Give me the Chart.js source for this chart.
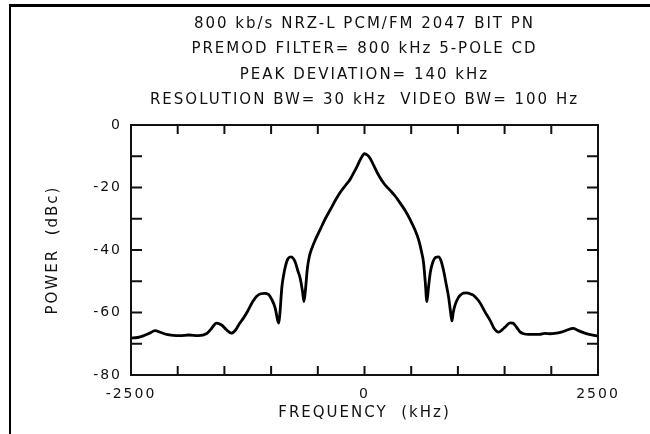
<!DOCTYPE html>
<html>
<head>
<meta charset="utf-8">
<script src="https://cdn.jsdelivr.net/npm/chart.js@4"></script>
<style>
  html, body { margin: 0; padding: 0; background: #fff; }
  #wrap { position: relative; width: 650px; height: 434px; overflow: hidden; }
  #frame { position: absolute; left: 9px; top: 4px; right: -5px; bottom: -5px;
           border-top: 3px solid #000; border-left: 2px solid #000; }
  #plot { position: absolute; left: 0; top: 0; }
</style>
</head>
<body>
<div id="wrap">
  <div id="frame"></div>
  <canvas id="plot" width="650" height="434"></canvas>
</div>
<script>
// spectrum (kHz, dBc)
const freqKHz = [
  -2500, -2430, -2369, -2300, -2244, -2180, -2119, -2050, -1978, -1880,
  -1780, -1693, -1640, -1586, -1530, -1475, -1426, -1380, -1338, -1296,
  -1250, -1196, -1154, -1110, -1070, -1029, -993, -957, -930, -918,
  -905, -885, -868, -845, -820, -789, -760, -740, -715, -689,
  -665, -648, -630, -612, -590, -564, -520, -475, -420, -368,
  -310, -261, -200, -154, -110, -82, -40, 0, 30, 61,
  100, 150, 210, 275, 330, 382, 440, 489, 540, 579,
  610, 632, 650, 668, 685, 704, 730, 760, 793, 820,
  846, 875, 900, 920, 936, 950, 971, 1000, 1025, 1060,
  1096, 1135, 1168, 1210, 1239, 1290, 1346, 1390, 1436, 1475,
  1507, 1560, 1589, 1630, 1665, 1704, 1760, 1811, 1870, 1932,
  1989, 2050, 2106, 2170, 2233, 2290, 2358, 2420, 2500
];
const powerDBc = [
  -68.2, -68.0, -67.5, -66.6, -65.8, -66.4, -67.0, -67.3, -67.4, -67.2,
  -67.4, -66.8, -65.2, -63.4, -64.0, -65.6, -66.6, -65.6, -63.5, -61.8,
  -59.5, -56.5, -54.8, -54.0, -53.9, -54.2, -55.8, -58.5, -62.5, -63.4,
  -60.0, -52.0, -48.4, -45.0, -42.8, -42.2, -42.8, -44.0, -46.5, -49.0,
  -53.0, -56.5, -52.0, -46.0, -42.0, -39.5, -36.3, -33.5, -30.0, -27.2,
  -24.0, -21.6, -19.2, -17.4, -15.0, -13.4, -10.8, -9.2, -9.6, -10.7,
  -13.0, -16.0, -18.8, -20.9, -22.8, -25.0, -27.6, -30.3, -33.5, -36.7,
  -40.5, -44.0, -50.0, -56.5, -52.0, -47.3, -44.0, -42.4, -42.2, -43.5,
  -46.5, -51.0, -55.0, -59.5, -62.7, -60.0, -57.5, -55.5, -54.5, -53.8,
  -53.7, -54.1, -54.5, -55.8, -57.0, -59.8, -62.6, -65.2, -66.3, -65.5,
  -64.6, -63.3, -63.4, -64.8, -66.2, -66.8, -67.0, -67.0, -67.0, -66.7,
  -66.8, -66.6, -66.3, -65.6, -65.1, -65.8, -66.6, -67.1, -67.6
];

const titleLines = [
  '800 kb/s NRZ-L PCM/FM 2047 BIT PN',
  'PREMOD FILTER= 800 kHz 5-POLE CD',
  'PEAK DEVIATION= 140 kHz',
  'RESOLUTION BW= 30 kHz  VIDEO BW= 100 Hz'
];
const xTickLabels = [-2500, 0, 2500];
const yTickLabels = [0, -20, -40, -60, -80];

const INK  = '#111';
const FONT = 'DejaVu Sans';

// the old plotter lettering is wide, so space the glyphs out a little
const wideText = {
  id: 'wideText',
  beforeUpdate(chart) { chart.ctx.letterSpacing = '2px'; },
  beforeDraw(chart)   { chart.ctx.letterSpacing = '2px'; }
};

// frame round the plot with the tick marks pointing inward
const inTicks = {
  id: 'inTicks',
  afterDraw(chart) {
    const { ctx, chartArea: a, scales: { x, y } } = chart;
    ctx.save();
    ctx.strokeStyle = INK;
    ctx.lineWidth = 2;
    ctx.beginPath();
    x.ticks.forEach(t => {
      const px = x.getPixelForValue(t.value);
      ctx.moveTo(px, a.bottom); ctx.lineTo(px, a.bottom - 9);
      ctx.moveTo(px, a.top);    ctx.lineTo(px, a.top + 9);
    });
    y.ticks.forEach(t => {
      const py = y.getPixelForValue(t.value);
      ctx.moveTo(a.left, py);  ctx.lineTo(a.left + 11, py);
      ctx.moveTo(a.right, py); ctx.lineTo(a.right - 11, py);
    });
    ctx.stroke();
    ctx.strokeRect(a.left, a.top, a.right - a.left, a.bottom - a.top);
    ctx.restore();
  }
};

new Chart(document.getElementById('plot').getContext('2d'), {
  type: 'line',
  data: {
    datasets: [{
      data: freqKHz.map((f, i) => ({ x: f, y: powerDBc[i] })),
      borderColor: '#000',
      borderWidth: 2.8,
      pointRadius: 0,
      fill: false,
      cubicInterpolationMode: 'monotone'
    }]
  },
  options: {
    responsive: false,
    animation: false,
    layout: { padding: { left: 0, right: 52, top: 0, bottom: 0 } },
    plugins: {
      legend: { display: false },
      tooltip: { enabled: false },
      title: {
        display: true,
        fullSize: false,
        text: titleLines,
        color: INK,
        font: { family: FONT, size: 15, weight: 'normal', lineHeight: 1.7 },
        padding: { top: 11, bottom: 12 }
      }
    },
    scales: {
      x: {
        type: 'linear',
        min: -2500,
        max: 2500,
        afterFit: s => { s.height = 59; },
        grid: { display: false, drawTicks: false },
        border: { display: false },
        ticks: {
          stepSize: 500,
          autoSkip: false,
          maxRotation: 0,
          padding: 11,
          color: INK,
          font: { family: FONT, size: 14 },
          callback: v => xTickLabels.includes(v) ? String(v) : ''
        },
        title: {
          display: true,
          text: 'FREQUENCY  (kHz)',
          color: INK,
          font: { family: FONT, size: 15 },
          padding: { top: 0, bottom: 12 }
        }
      },
      y: {
        min: -80,
        max: 0,
        afterFit: s => { s.width = 131; },
        grid: { display: false, drawTicks: false },
        border: { display: false },
        ticks: {
          stepSize: 10,
          autoSkip: false,
          padding: 9,
          color: INK,
          font: { family: FONT, size: 14 },
          callback: v => yTickLabels.includes(v) ? String(v) : ''
        },
        title: {
          display: true,
          text: 'POWER  (dBc)',
          color: INK,
          font: { family: FONT, size: 15 },
          padding: { top: 44, bottom: 0 }
        }
      }
    }
  },
  plugins: [wideText, inTicks]
});
</script>
</body>
</html>
